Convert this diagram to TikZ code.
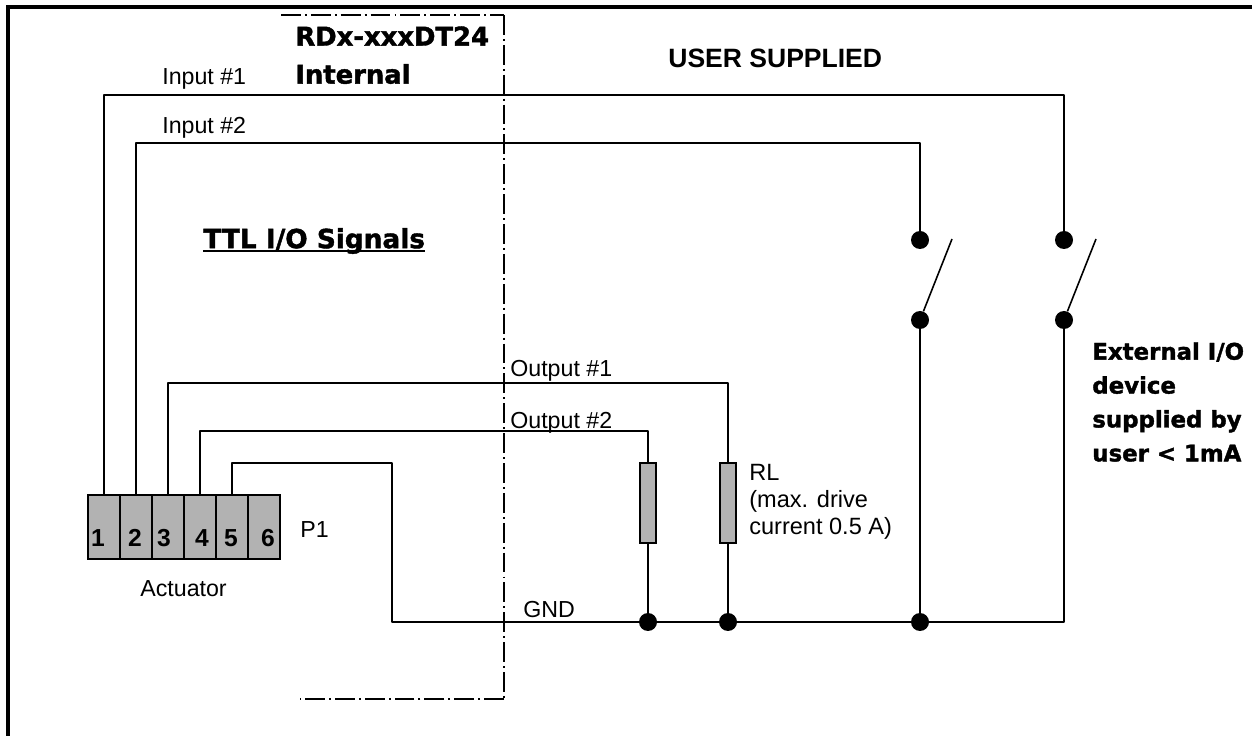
\documentclass[tikz,border=0pt]{standalone}
\usepackage{fontspec}
\setmainfont{Liberation Sans}
\newfontfamily\blackfont[FakeBold=1.6]{DejaVu Sans Bold}
\usetikzlibrary{positioning}
\tikzset{
	wire/.style={line width=0.9pt, line join=round},
	border/.style={line width=0.9pt, dash pattern=on 11.3pt off 2.3pt on 1.1pt off 2.3pt},
	pinbox/.style={draw=black, fill=gray!60, line width=0.9pt, minimum width=32*0.02cm, minimum height=64*0.02cm, inner sep=0pt},
	loadbox/.style={draw=black, fill=gray!60, line width=0.9pt, minimum width=16*0.02cm, minimum height=80*0.02cm, inner sep=0pt},
	contact/.style={circle, fill=black, minimum size=18*0.02cm, inner sep=0pt},
	lbl/.style={anchor=west, inner sep=0pt, font=\fontsize{13.2}{15.5}\selectfont},
	heavy/.style={anchor=west, inner sep=0pt, font=\blackfont\fontsize{14.7}{15}\selectfont},
	pinnum/.style={inner sep=0pt, font=\bfseries\fontsize{14}{15}\selectfont}
}
\begin{document}
\begin{tikzpicture}[x=0.02cm,y=-0.02cm]
	\useasboundingbox (0,0) rectangle (1252,736);
	% frame, open at the right and at the bottom
	\draw[line width=2.3pt] (8,736) -- (8,7) -- (1252,7);
	% boundary of the internal part
	\coordinate (bndA) at (281,15);
	\coordinate (bndB) at (504,15);
	\coordinate (bndC) at (504,699);
	\coordinate (bndD) at (300,699);
	\draw[border] (bndA) -- (bndB);
	\draw[border] (bndB) -- (bndC);
	\draw[border] (bndC) -- (bndD);
	% connector
	\foreach \n/\x in {1/104,2/136,3/168,4/200,5/232,6/264}
	{
		\node[pinbox] (pin\n) at (\x,527) {};
	}
	\foreach \n/\x in {1/98,2/135,3/164,4/202,5/231,6/268}
	{
		\node[pinnum] (num\n) at (\x,538) {\n};
	}
	% contacts
	\node[contact] (topB) at (920,240) {};
	\node[contact] (midB) at (920,320) {};
	\node[contact] (topA) at (1064,240) {};
	\node[contact] (midA) at (1064,320) {};
	\node[contact] (gndB) at (920,622) {};
	\node[contact] (gndO2) at (648,622) {};
	\node[contact] (gndO1) at (728,622) {};
	\node[loadbox] (loadO2) at (648,503) {};
	\node[loadbox] (loadO1) at (728,503) {};
	\coordinate (tipB) at (952,239);
	\coordinate (tipA) at (1096,239);
	% wires
	\draw[wire] (pin1.north) -- (pin1.north |- 0,95) -| (topA);
	\draw[wire] (pin2.north) -- (pin2.north |- 0,143) -| (topB);
	\draw[wire] (pin3.north) -- (pin3.north |- 0,383) -| (loadO1.north);
	\draw[wire] (pin4.north) -- (pin4.north |- 0,431) -| (loadO2.north);
	\draw[wire] (pin5.north) -- (pin5.north |- 0,463) -| (392,622) -- (gndO2);
	\draw[wire] (loadO2) -- (gndO2);
	\draw[wire] (loadO1) -- (gndO1);
	\draw[wire] (gndO2) -- (gndO1);
	\draw[wire] (gndO1) -- (gndB);
	\draw[wire] (midB) -- (gndB);
	\draw[wire] (gndB) -| (midA);
	\draw[wire] (midB) -- (tipB);
	\draw[wire] (midA) -- (tipA);
	% labels
	\node[lbl] (in1) at (162,79) {Input \#1};
	\node[lbl] (in2) at (162,128) {Input \#2};
	\node[lbl] (out1) at (510,371) {Output \#1};
	\node[lbl] (out2) at (510,423) {Output \#2};
	\node[lbl] (gnd) at (523,610) {GND};
	\node[lbl] (p1) at (300,530) {P1};
	\node[lbl] (act) at (140,589) {Actuator};
	\node[lbl, font=\fontsize{13.4}{15.5}\selectfont, align=left] (rl) at (749,502) {RL\\(max. drive\\current 0.5 A)};
	\node[lbl, font=\bfseries\fontsize{15.1}{15.5}\selectfont] (user) at (668,58) {USER SUPPLIED};
	\node[heavy] (rdx) at (295,36) {RDx-xxxDT24};
	\node[heavy] (internal) at (295,74) {Internal};
	\node[heavy, font=\blackfont\fontsize{15}{15}\selectfont] (ttl) at (203,241) {TTL I/O Signals};
	\draw[line width=1.6pt] (ttl.west |- 0,251) -- (ttl.east |- 0,251);
	\node[heavy, font=\blackfont\fontsize{13}{19.3}\selectfont, align=left] (ext) at (1092,402) {External I/O\\device\\supplied by\\user < 1mA};
\end{tikzpicture}
\end{document}
